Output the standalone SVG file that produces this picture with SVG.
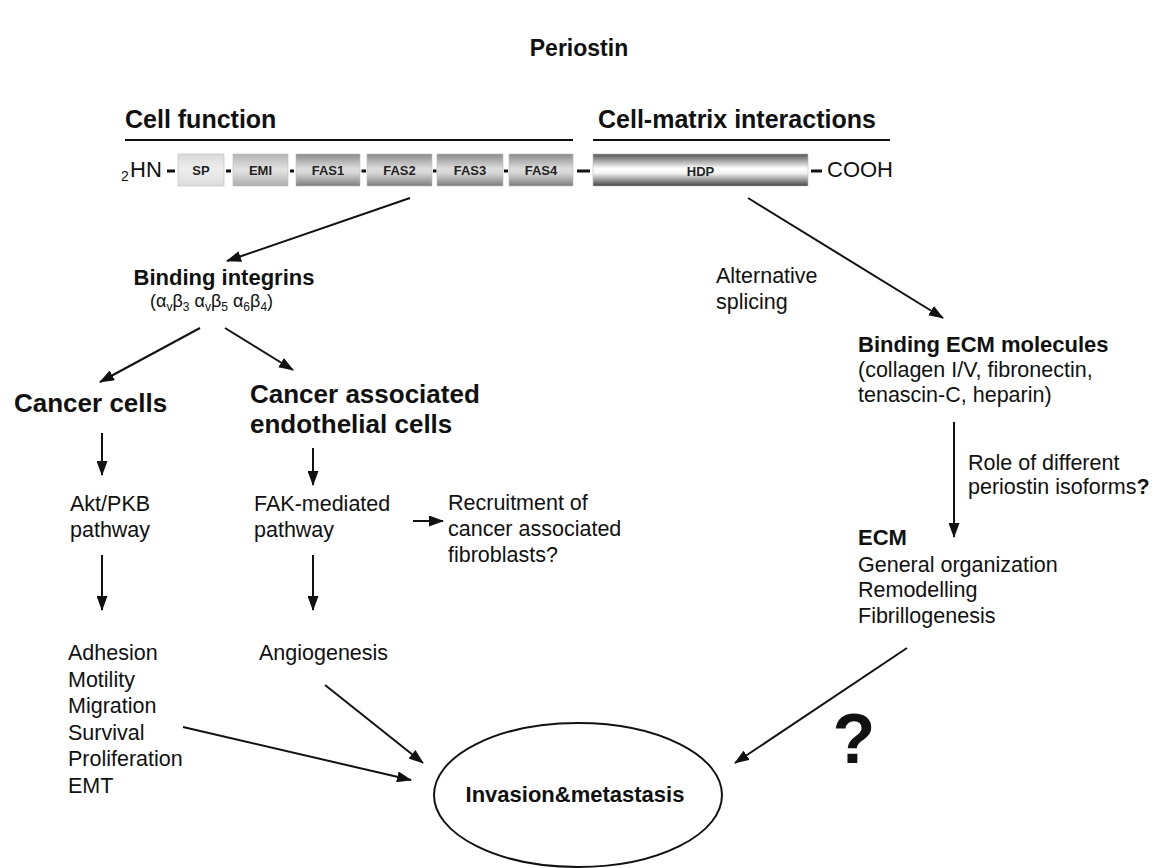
<svg xmlns="http://www.w3.org/2000/svg" width="1157" height="868" viewBox="0 0 1157 868">
<style>
text { font-family: "Liberation Sans", Arial, sans-serif; fill: #111; }
.b { font-weight: bold; }
.r { font-size: 21.5px; }
.dom { font-size: 13px; font-weight: bold; text-anchor: middle; fill: #222; }
.box { stroke: #bbb; stroke-width: 0.6; }
.dash { fill: #111; }
.conn line { stroke: #111; stroke-width: 2; marker-end: url(#ah); }
.rule { stroke: #111; stroke-width: 2.2; }
</style>
<defs>
<marker id="ah" markerUnits="userSpaceOnUse" markerWidth="15" markerHeight="11" refX="14" refY="5.5" orient="auto">
<path d="M0,0 L15,5.5 L0,11 z" fill="#111"/>
</marker>
<linearGradient id="gsp" x1="0" y1="0" x2="0" y2="1">
<stop offset="0" stop-color="#dadada"/><stop offset="0.5" stop-color="#eeeeee"/><stop offset="1" stop-color="#dcdcdc"/>
</linearGradient>
<linearGradient id="gemi" x1="0" y1="0" x2="0" y2="1">
<stop offset="0" stop-color="#b4b4b4"/><stop offset="0.5" stop-color="#e4e4e4"/><stop offset="1" stop-color="#acacac"/>
</linearGradient>
<linearGradient id="gfas" x1="0" y1="0" x2="0" y2="1">
<stop offset="0" stop-color="#8a8a8a"/><stop offset="0.45" stop-color="#dcdcdc"/><stop offset="0.6" stop-color="#d6d6d6"/><stop offset="1" stop-color="#7c7c7c"/>
</linearGradient>
<linearGradient id="ghdp" x1="0" y1="0" x2="0" y2="1">
<stop offset="0" stop-color="#555555"/><stop offset="0.45" stop-color="#ffffff"/><stop offset="0.6" stop-color="#f4f4f4"/><stop offset="1" stop-color="#444444"/>
</linearGradient>
</defs>
<rect width="1157" height="868" fill="#fff"/>

<g id="title"><text class="b" x="579" y="56" font-size="23" text-anchor="middle">Periostin</text></g>

<g id="header-cell-function">
<text class="b" x="125" y="128" font-size="25">Cell function</text>
<line class="rule" x1="125" y1="140" x2="573" y2="140"/>
</g>
<g id="header-cell-matrix">
<text class="b" x="598" y="128" font-size="25">Cell-matrix interactions</text>
<line class="rule" x1="593" y1="140" x2="890" y2="140"/>
</g>

<g id="protein">
<text x="121" y="181" font-size="14">2</text>
<text x="130" y="177" font-size="22">HN</text>
<rect class="dash" x="167" y="169.5" width="8" height="3"/>
<rect class="box" x="178" y="154" width="46" height="32" fill="url(#gsp)"/>
<text class="dom" x="201" y="175">SP</text>
<rect class="dash" x="226" y="169.5" width="5" height="3"/>
<rect class="box" x="233" y="154" width="55" height="32" fill="url(#gemi)"/>
<text class="dom" x="260.5" y="175">EMI</text>
<rect class="dash" x="290" y="169.5" width="4" height="3"/>
<rect class="box" x="296" y="154" width="64" height="32" fill="url(#gfas)"/>
<text class="dom" x="328" y="175">FAS1</text>
<rect class="dash" x="361.5" y="169.5" width="4.5" height="3"/>
<rect class="box" x="367" y="154" width="65" height="32" fill="url(#gfas)"/>
<text class="dom" x="399.5" y="175">FAS2</text>
<rect class="dash" x="433" y="169.5" width="3.5" height="3"/>
<rect class="box" x="437" y="154" width="66" height="32" fill="url(#gfas)"/>
<text class="dom" x="470" y="175">FAS3</text>
<rect class="dash" x="504" y="169.5" width="4" height="3"/>
<rect class="box" x="509" y="154" width="64" height="32" fill="url(#gfas)"/>
<text class="dom" x="541" y="175">FAS4</text>
<rect class="dash" x="577" y="169.5" width="13" height="3"/>
<rect class="box" x="593" y="154" width="215" height="32" fill="url(#ghdp)"/>
<text class="dom" x="700.5" y="176">HDP</text>
<rect class="dash" x="811" y="169.5" width="11" height="3"/>
<text x="827" y="177" font-size="22">COOH</text>
</g>

<g id="binding-integrins">
<text class="b" x="224" y="285" font-size="22" text-anchor="middle">Binding integrins</text>
<text x="150" y="307" font-size="18">(α<tspan font-size="12" dy="4">v</tspan><tspan dy="-4">β</tspan><tspan font-size="12" dy="4">3</tspan><tspan dy="-4"> α</tspan><tspan font-size="12" dy="4">v</tspan><tspan dy="-4">β</tspan><tspan font-size="12" dy="4">5</tspan><tspan dy="-4"> α</tspan><tspan font-size="12" dy="4">6</tspan><tspan dy="-4">β</tspan><tspan font-size="12" dy="4">4</tspan><tspan dy="-4">)</tspan></text>
</g>

<g id="alternative-splicing">
<text class="r" x="716" y="283">Alternative</text>
<text class="r" x="716" y="309">splicing</text>
</g>

<g id="binding-ecm">
<text class="b" x="858" y="352" font-size="22">Binding ECM molecules</text>
<text class="r" x="858" y="377">(collagen I/V, fibronectin,</text>
<text class="r" x="858" y="402">tenascin-C, heparin)</text>
</g>

<g id="cancer-cells"><text class="b" x="14" y="412" font-size="26">Cancer cells</text></g>
<g id="endothelial">
<text class="b" x="250" y="403" font-size="26">Cancer associated</text>
<text class="b" x="250" y="433" font-size="26">endothelial cells</text>
</g>

<g id="akt">
<text class="r" x="70" y="511">Akt/PKB</text>
<text class="r" x="70" y="537">pathway</text>
</g>
<g id="fak">
<text class="r" x="254" y="511">FAK-mediated</text>
<text class="r" x="254" y="537">pathway</text>
</g>
<g id="recruitment">
<text class="r" x="448" y="510">Recruitment of</text>
<text class="r" x="448" y="536">cancer associated</text>
<text class="r" x="448" y="562">fibroblasts?</text>
</g>

<g id="role-isoforms">
<text class="r" x="968" y="470">Role of different</text>
<text class="r" x="968" y="494">periostin isoforms<tspan class="b">?</tspan></text>
</g>

<g id="ecm">
<text class="b" x="858" y="545" font-size="22">ECM</text>
<text class="r" x="858" y="572">General organization</text>
<text class="r" x="858" y="597">Remodelling</text>
<text class="r" x="858" y="623">Fibrillogenesis</text>
</g>

<g id="cell-processes">
<text class="r" x="68" y="660">Adhesion</text>
<text class="r" x="68" y="687">Motility</text>
<text class="r" x="68" y="713">Migration</text>
<text class="r" x="68" y="740">Survival</text>
<text class="r" x="68" y="766">Proliferation</text>
<text class="r" x="68" y="793">EMT</text>
</g>
<g id="angiogenesis"><text class="r" x="259" y="660">Angiogenesis</text></g>

<g id="question"><text class="b" x="854" y="763" font-size="70" text-anchor="middle">?</text></g>

<g id="invasion">
<ellipse cx="578" cy="795" rx="144" ry="72" fill="none" stroke="#111" stroke-width="2"/>
<text class="b" x="575" y="802" font-size="22" text-anchor="middle">Invasion&amp;metastasis</text>
</g>

<g id="connectors" class="conn">
<line x1="410" y1="198" x2="227" y2="261"/>
<line x1="748" y1="198" x2="943" y2="318"/>
<line x1="200" y1="328" x2="100" y2="382"/>
<line x1="225" y1="328" x2="293" y2="370"/>
<line x1="102" y1="433" x2="102" y2="475"/>
<line x1="313" y1="448" x2="313" y2="485"/>
<line x1="102" y1="555" x2="102" y2="610"/>
<line x1="313" y1="555" x2="313" y2="610"/>
<line x1="413" y1="521" x2="443" y2="521"/>
<line x1="954" y1="422" x2="954" y2="537"/>
<line x1="183" y1="727" x2="411" y2="780"/>
<line x1="325" y1="685" x2="423" y2="763"/>
<line x1="907" y1="648" x2="735" y2="763"/>
</g>
</svg>
